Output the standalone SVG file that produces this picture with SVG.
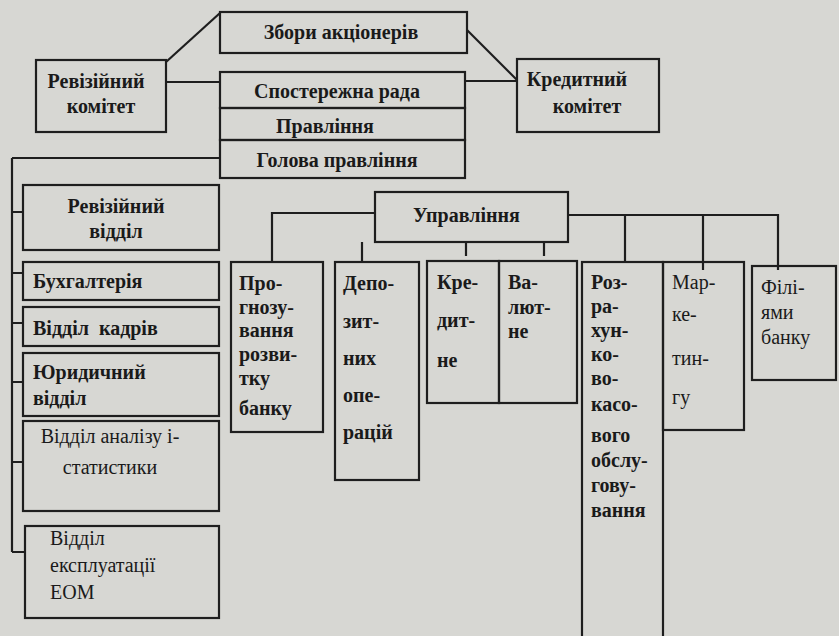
<svg xmlns="http://www.w3.org/2000/svg" width="839" height="636" viewBox="0 0 839 636">
<style>
.bg{fill:#d7d7d3}
.box{fill:none;stroke:#1e1e1e;stroke-width:2.2}
.ln{fill:none;stroke:#1e1e1e;stroke-width:2.2}
text{font-family:"Liberation Serif","DejaVu Serif",serif;fill:#1a1a1a;font-size:20px;font-weight:bold}
.c{text-anchor:middle}
.r{font-weight:normal}
.pre{white-space:pre}
</style>
<rect class="bg" x="0" y="0" width="839" height="636"/>
<g id="connectors">
<path class="ln" d="M166 62 L220 13"/>
<path class="ln" d="M166 82 H220"/>
<path class="ln" d="M467 30 L517 80"/>
<path class="ln" d="M465 81 H517"/>
<path class="ln" d="M12 158 H220"/>
<path class="ln" d="M12 158 V552"/>
<path class="ln" d="M12 212 H23 M12 273 H23 M12 323 H23 M12 382 H23 M12 462 H23 M12 552 H25"/>
<path class="ln" d="M375 213 H272 V262"/>
<path class="ln" d="M362 242 V262"/>
<path class="ln" d="M466 242 V256 M544 242 V256"/>
<path class="ln" d="M568 215 H778 V270"/>
<path class="ln" d="M625 215 V262"/>
<path class="ln" d="M703 215 V270"/>
</g>
<g id="zbory"><rect class="box" x="220" y="12" width="247" height="41"/><text class="c" x="341" y="39">Збори акціонерів</text></g>
<g id="reviz-komitet"><rect class="box" x="36" y="60" width="130" height="72"/><text class="c" x="96" y="88">Ревізійний</text><text class="c" x="101" y="113">комітет</text></g>
<g id="sposterezhna"><rect class="box" x="220" y="72" width="245" height="36"/><text class="c" x="337" y="98">Спостережна рада</text></g>
<g id="pravlinnia"><rect class="box" x="220" y="108" width="245" height="32"/><text class="c" x="325" y="133">Правління</text></g>
<g id="holova"><rect class="box" x="220" y="140" width="245" height="38"/><text class="c" x="337" y="167">Голова правління</text></g>
<g id="kredyt-komitet"><rect class="box" x="517" y="59" width="142" height="73"/><text class="c" x="577" y="86">Кредитний</text><text class="c" x="587" y="113">комітет</text></g>
<g id="reviz-viddil"><rect class="box" x="23" y="185" width="196" height="65"/><text class="c" x="116" y="213">Ревізійний</text><text class="c" x="116" y="238">відділ</text></g>
<g id="bukh"><rect class="box" x="23" y="262" width="196" height="38"/><text x="33" y="288">Бухгалтерія</text></g>
<g id="kadry"><rect class="box" x="23" y="307" width="196" height="39"/><text class="pre" x="33" y="335">Відділ  кадрів</text></g>
<g id="yuryd"><rect class="box" x="23" y="353" width="196" height="63"/><text x="33" y="379">Юридичний</text><text x="33" y="405">відділ</text></g>
<g id="analiz"><rect class="box" x="23" y="421" width="196" height="90"/><text class="c r" x="110" y="443">Відділ аналізу і-</text><text class="c r" x="110" y="474">статистики</text></g>
<g id="eom"><rect class="box" x="25" y="526" width="194" height="92"/><text class="r" x="50" y="545">Відділ</text><text class="r" x="50" y="572">експлуатації</text><text class="r" x="50" y="599">ЕОМ</text></g>
<g id="upravlinnia"><rect class="box" x="375" y="192" width="193" height="50"/><text x="413" y="222">Управління</text></g>
<g id="prohnoz"><rect class="box" x="231" y="262" width="92" height="170"/>
<text x="239" y="290">Про-</text><text x="239" y="314">гнозу-</text><text x="239" y="337">вання</text><text x="239" y="361">розви-</text><text x="239" y="385">тку</text><text x="239" y="415">банку</text></g>
<g id="depozyt"><rect class="box" x="335" y="262" width="84" height="218"/>
<text x="343" y="290">Депо-</text><text x="343" y="328">зит-</text><text x="343" y="365">них</text><text x="343" y="402">опе-</text><text x="343" y="439">рацій</text></g>
<g id="kredytne"><rect class="box" x="427" y="261" width="72" height="142"/>
<text x="437" y="289">Кре-</text><text x="437" y="327">дит-</text><text x="437" y="367">не</text></g>
<g id="valiutne"><rect class="box" x="499" y="261" width="78" height="142"/>
<text x="508" y="289">Ва-</text><text x="508" y="314">лют-</text><text x="508" y="338">не</text></g>
<g id="rozrakh"><rect class="box" x="582" y="262" width="81" height="380"/>
<text x="591" y="289">Роз-</text><text x="591" y="313">ра-</text><text x="591" y="337">хун-</text><text x="591" y="361">ко-</text><text x="591" y="385">во-</text><text x="591" y="411">касо-</text><text x="591" y="442">вого</text><text x="591" y="467">обслу-</text><text x="591" y="492">гову-</text><text x="591" y="517">вання</text></g>
<g id="marketynh"><rect class="box" x="663" y="262" width="81" height="168"/>
<text class="r" x="672" y="289">Мар-</text><text class="r" x="672" y="321">ке-</text><text class="r" x="672" y="365">тин-</text><text class="r" x="672" y="404">гу</text></g>
<g id="filii"><rect class="box" x="752" y="266" width="84" height="114"/>
<text class="r" x="761" y="294">Філі-</text><text class="r" x="761" y="319">ями</text><text class="r" x="761" y="344">банку</text></g>
</svg>
